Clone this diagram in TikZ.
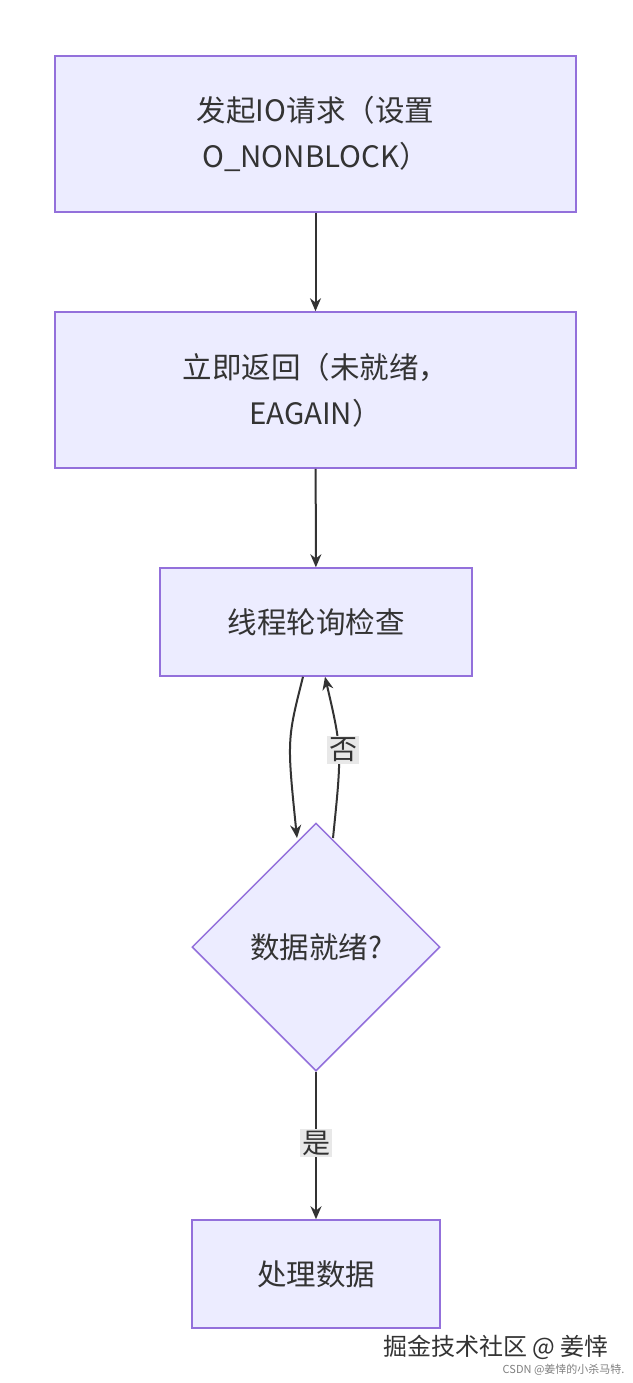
\documentclass[tikz,border=0pt]{standalone}
\usepackage{fontspec}
\setmainfont{Noto Sans CJK SC}
\usetikzlibrary{shapes.geometric,arrows.meta}
\definecolor{nfill}{HTML}{ECECFF}
\definecolor{nline}{HTML}{9370DB}
\definecolor{txt}{HTML}{333333}
\definecolor{lbl}{HTML}{E8E8E8}
\begin{document}
\begin{tikzpicture}[x=1pt,y=-1pt,
  box/.style={draw=nline,fill=nfill,line width=1.5pt,text=txt,font=\fontsize{29.5}{46}\selectfont,align=center,inner sep=0pt},
  dia/.style={diamond,draw=nline,fill=nfill,line width=1.5pt,text=txt,font=\fontsize{29.5}{40}\selectfont,minimum width=248pt,minimum height=248pt,inner sep=0pt},
  arr/.style={draw=txt,line width=2pt,-{Stealth[length=13pt,width=11pt]}},
  lab/.style={fill=lbl,text=txt,font=\fontsize{28}{32}\selectfont,inner sep=2pt}]
\useasboundingbox (0,0) rectangle (632,1383);
\fill[white] (0,0) rectangle (632,1383);
\node[box,minimum width=521pt,minimum height=156pt] (a) at (315.5,134) {发起IO请求（设置\\O\_NONBLOCK）};
\node[box,minimum width=521pt,minimum height=156pt] (b) at (315.5,390) {立即返回（未就绪，\\EAGAIN）};
\node[box,minimum width=312pt,minimum height=108pt] (c) at (316,622) {线程轮询检查};
\node[dia] (d) at (316,947) {数据就绪?};
\node[box,minimum width=248pt,minimum height=108pt] (e) at (316,1274) {处理数据};
\draw[arr] (a) -- (b);
\draw[arr] (b) -- (c);
\draw[arr] ([xshift=-13pt]c.south) .. controls (287,740) .. (297,838);
\draw[arr] (333,838) .. controls (342,750) .. ([xshift=9pt]c.south);
\node[lab] at (343,750) {否};
\draw[arr] (d.south) -- (e.north);
\node[lab] at (316,1143) {是};
\node[text=txt,font=\fontsize{24}{28}\selectfont,anchor=east] (w1) at (612,1347) {掘金技术社区 @ 姜悻};
\node[text=gray,font=\fontsize{11}{13}\selectfont,anchor=east] (w2) at (628,1370) {CSDN @姜悻的小杀马特.};
\end{tikzpicture}
\end{document}
